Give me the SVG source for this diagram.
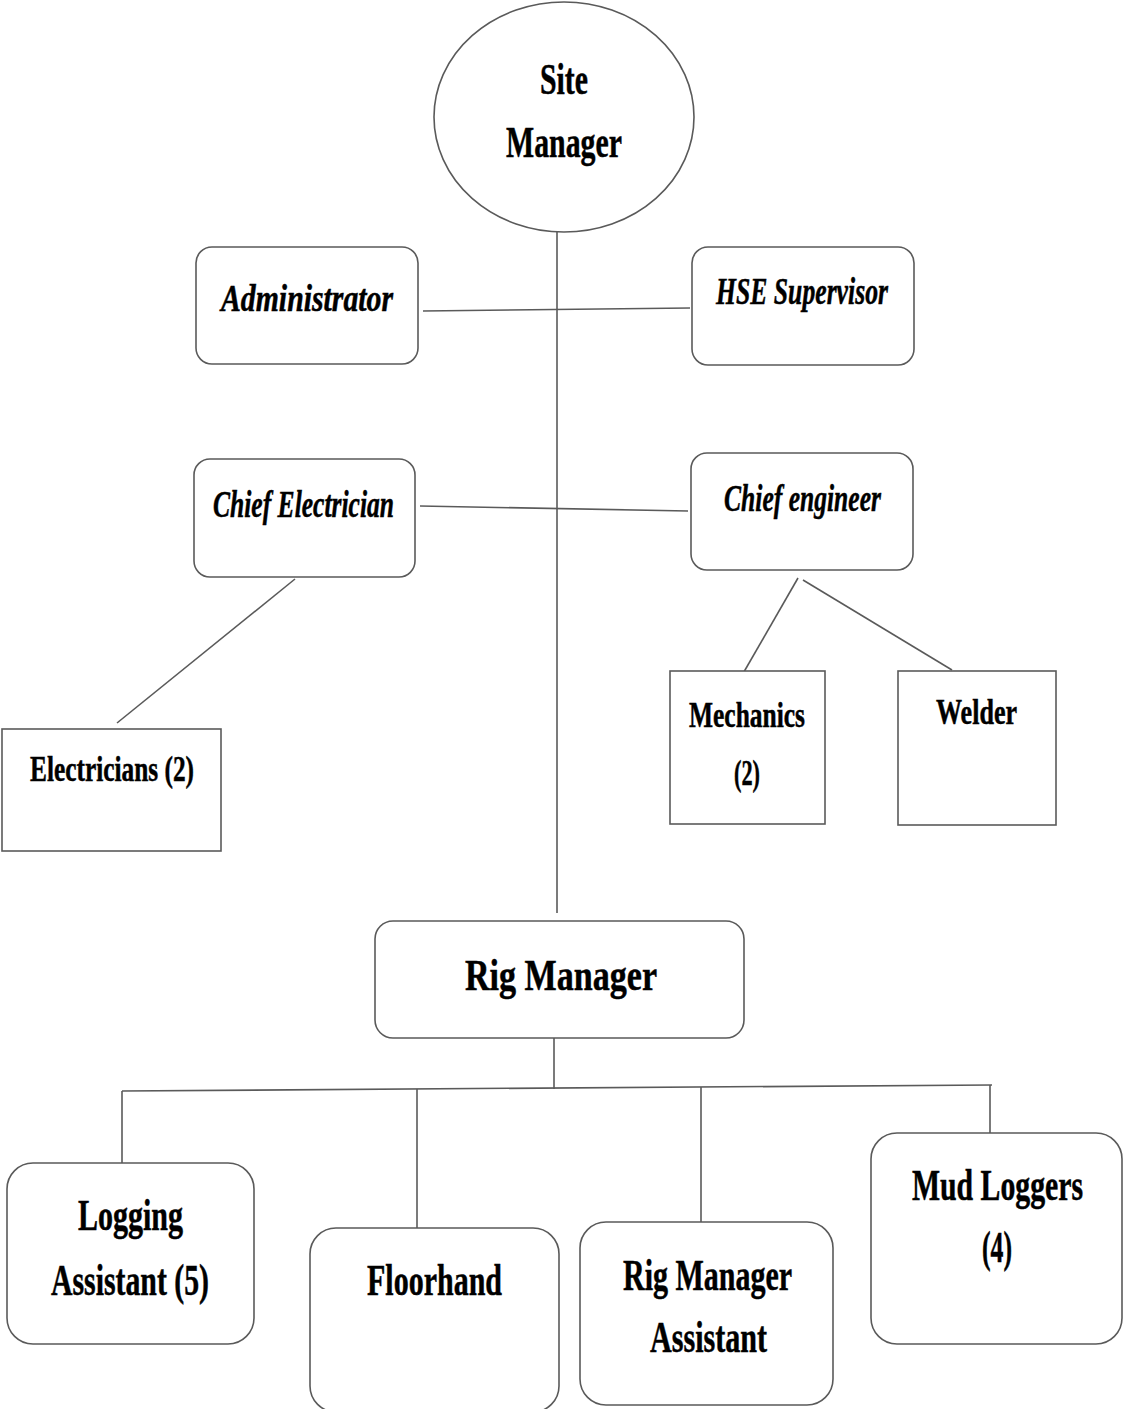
<svg xmlns="http://www.w3.org/2000/svg" width="1124" height="1409" viewBox="0 0 1124 1409">
<style>
.box{fill:#fff;stroke:#5a5a5a;stroke-width:1.6}
.ln{fill:none;stroke:#5a5a5a;stroke-width:1.6}
text{font-family:"Liberation Serif","Times New Roman",serif;font-weight:bold;fill:#000;stroke:#000;stroke-width:0.5;text-anchor:middle}
.it{font-style:italic}
.big{font-size:44px}
.mid{font-size:38px}
.sm{font-size:36px}
</style>
<rect width="1124" height="1409" fill="#fff"/>
<g id="connectors">
<line class="ln" x1="557" y1="232" x2="557" y2="913"/>
<line class="ln" x1="423" y1="311" x2="690" y2="308"/>
<line class="ln" x1="420" y1="506" x2="688" y2="511"/>
<line class="ln" x1="295" y1="579" x2="117" y2="723"/>
<line class="ln" x1="798" y1="578" x2="741" y2="677"/>
<line class="ln" x1="803" y1="580" x2="952" y2="670"/>
<line class="ln" x1="554" y1="1038" x2="554" y2="1089"/>
<line class="ln" x1="122" y1="1091" x2="992" y2="1085"/>
<line class="ln" x1="122" y1="1091" x2="122" y2="1163"/>
<line class="ln" x1="417" y1="1089" x2="417" y2="1228"/>
<line class="ln" x1="701" y1="1087" x2="701" y2="1222"/>
<line class="ln" x1="990" y1="1085" x2="990" y2="1133"/>
</g>
<g id="site-manager">
<ellipse class="box" cx="564" cy="117" rx="130" ry="115"/>
<text class="big" x="564" y="94" textLength="48" lengthAdjust="spacingAndGlyphs">Site</text>
<text class="big" x="564" y="157" textLength="116" lengthAdjust="spacingAndGlyphs">Manager</text>
</g>
<g id="administrator">
<rect class="box" x="196" y="247" width="222" height="117" rx="16"/>
<text class="mid it" x="307" y="311" textLength="172" lengthAdjust="spacingAndGlyphs">Administrator</text>
</g>
<g id="hse-supervisor">
<rect class="box" x="692" y="247" width="222" height="118" rx="16"/>
<text class="mid it" x="802" y="304" textLength="172" lengthAdjust="spacingAndGlyphs">HSE Supervisor</text>
</g>
<g id="chief-electrician">
<rect class="box" x="194" y="459" width="221" height="118" rx="16"/>
<text class="mid it" x="303.5" y="517" textLength="181" lengthAdjust="spacingAndGlyphs">Chief Electrician</text>
</g>
<g id="chief-engineer">
<rect class="box" x="691" y="453" width="222" height="117" rx="16"/>
<text class="mid it" x="802.5" y="511" textLength="157" lengthAdjust="spacingAndGlyphs">Chief engineer</text>
</g>
<g id="electricians">
<rect class="box" x="2" y="729" width="219" height="122"/>
<text class="sm" x="112" y="781" textLength="164" lengthAdjust="spacingAndGlyphs">Electricians (2)</text>
</g>
<g id="mechanics">
<rect class="box" x="670" y="671" width="155" height="153"/>
<text class="sm" x="747" y="727" textLength="116" lengthAdjust="spacingAndGlyphs">Mechanics</text>
<text class="sm" x="747" y="785" textLength="26" lengthAdjust="spacingAndGlyphs">(2)</text>
</g>
<g id="welder">
<rect class="box" x="898" y="671" width="158" height="154"/>
<text class="sm" x="976.5" y="724" textLength="81" lengthAdjust="spacingAndGlyphs">Welder</text>
</g>
<g id="rig-manager">
<rect class="box" x="375" y="921" width="369" height="117" rx="18"/>
<text class="big" x="561" y="990" textLength="192" lengthAdjust="spacingAndGlyphs">Rig Manager</text>
</g>
<g id="logging-assistant">
<rect class="box" x="7" y="1163" width="247" height="181" rx="26"/>
<text class="big" x="130.5" y="1230" textLength="105" lengthAdjust="spacingAndGlyphs">Logging</text>
<text class="big" x="130" y="1295" textLength="158" lengthAdjust="spacingAndGlyphs">Assistant (5)</text>
</g>
<g id="floorhand">
<rect class="box" x="310" y="1228" width="249" height="184" rx="26"/>
<text class="big" x="434.5" y="1295" textLength="135" lengthAdjust="spacingAndGlyphs">Floorhand</text>
</g>
<g id="rig-manager-assistant">
<rect class="box" x="580" y="1222" width="253" height="183" rx="26"/>
<text class="big" x="707.5" y="1290" textLength="169" lengthAdjust="spacingAndGlyphs">Rig Manager</text>
<text class="big" x="708.5" y="1352" textLength="117" lengthAdjust="spacingAndGlyphs">Assistant</text>
</g>
<g id="mud-loggers">
<rect class="box" x="871" y="1133" width="251" height="211" rx="26"/>
<text class="big" transform="translate(997.5,1200) scale(0.5,1)" x="0" y="0" textLength="342" lengthAdjust="spacingAndGlyphs">Mud Loggers</text>
<text class="big" x="997" y="1262" textLength="30" lengthAdjust="spacingAndGlyphs">(4)</text>
</g>
</svg>
